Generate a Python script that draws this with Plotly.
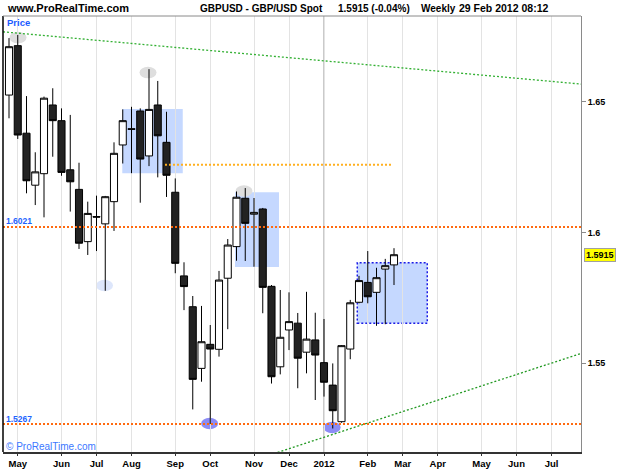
import pandas as pd
import plotly.graph_objects as go

# ---------------- data ----------------
start_week = "2011-04-25"
n_weeks = 45
opens = [1.6526, 1.6715, 1.6380, 1.6181, 1.6225, 1.6488, 1.6428, 1.6240, 1.6165, 1.5965,
         1.6061, 1.6033, 1.6118, 1.6335, 1.6397, 1.6465, 1.6293, 1.6488, 1.6345, 1.6154,
         1.5834, 1.5716, 1.5480, 1.5572, 1.5553, 1.5825, 1.5946, 1.6131, 1.6070, 1.6090,
         1.5794, 1.5486, 1.5627, 1.5653, 1.5542, 1.5589, 1.5502, 1.5416, 1.5276, 1.5554,
         1.5733, 1.5809, 1.5771, 1.5860, 1.5876]
highs = [1.6744, 1.6756, 1.6522, 1.6307, 1.6520, 1.6552, 1.6475, 1.6450, 1.6267, 1.6118,
         1.6141, 1.6140, 1.6345, 1.6471, 1.6481, 1.6475, 1.6625, 1.6580, 1.6462, 1.6207,
         1.5886, 1.5757, 1.5719, 1.5646, 1.5853, 1.5975, 1.6157, 1.6170, 1.6132, 1.6094,
         1.5799, 1.5780, 1.5771, 1.5692, 1.5773, 1.5693, 1.5669, 1.5499, 1.5569, 1.5742,
         1.5834, 1.5929, 1.5865, 1.5899, 1.5940]
lows = [1.6437, 1.6358, 1.6150, 1.6105, 1.6058, 1.6290, 1.6217, 1.6080, 1.5937, 1.5914,
        1.5929, 1.5777, 1.6006, 1.6264, 1.6227, 1.6114, 1.6254, 1.6211, 1.6136, 1.5844,
        1.5703, 1.5323, 1.5429, 1.5267, 1.5525, 1.5630, 1.5892, 1.5891, 1.5869, 1.5691,
        1.5422, 1.5457, 1.5550, 1.5404, 1.5461, 1.5359, 1.5372, 1.5250, 1.5272, 1.5515,
        1.5729, 1.5729, 1.5643, 1.5649, 1.5799]
closes = [1.6711, 1.6373, 1.6198, 1.6232, 1.6514, 1.6428, 1.6230, 1.6194, 1.5959, 1.6073,
          1.6059, 1.6137, 1.6303, 1.6428, 1.6395, 1.6281, 1.6471, 1.6370, 1.6219, 1.5882,
          1.5793, 1.5438, 1.5582, 1.5554, 1.5818, 1.5952, 1.6135, 1.6035, 1.6077, 1.5790,
          1.5448, 1.5599, 1.5659, 1.5519, 1.5592, 1.5531, 1.5427, 1.5318, 1.5567, 1.5731,
          1.5816, 1.5754, 1.5827, 1.5873, 1.5915]

month_ticks = ["2011-05-02", "2011-06-06", "2011-07-04", "2011-08-01", "2011-09-05",
               "2011-10-03", "2011-11-07", "2011-12-05", "2012-01-02", "2012-02-06",
               "2012-03-05", "2012-04-02", "2012-05-07", "2012-06-04", "2012-07-02"]
month_labels = ["May", "Jun", "Jul", "Aug", "Sep", "Oct", "Nov", "Dec", "2012",
                "Feb", "Mar", "Apr", "May", "Jun", "Jul"]
price_ticks = [1.55, 1.6, 1.65]
price_tick_labels = ["1.55", "1.6", "1.65"]

last_price = 1.5915
level_high = 1.6021
level_low = 1.5267
mid_level = 1.6259

x_range = ["2011-04-20 04:48", "2012-07-25 14:24"]
y_range = [1.5160, 1.68285]

dates = pd.date_range(start_week, periods=n_weeks, freq="7D")

# ---------------- figure ----------------
fig = go.Figure()
fig.add_trace(go.Candlestick(
    x=dates, open=opens, high=highs, low=lows, close=closes,
    increasing=dict(line=dict(color="#000000", width=1), fillcolor="#FFFFFF"),
    decreasing=dict(line=dict(color="#000000", width=1), fillcolor="#222222"),
    whiskerwidth=0, hoverinfo="skip", showlegend=False,
))

shapes = []
# shaded zones
boxes = [("2011-07-24 15:00", "2011-09-11", 1.6227, 1.6473, False),
         ("2011-10-22 19:00", "2011-11-27", 1.5868, 1.6154, False),
         ("2012-01-28 15:00", "2012-03-24 15:00", 1.5653, 1.5884, True)]
for x0, x1, y0, y1, border in boxes:
    shapes.append(dict(type="rect", xref="x", yref="y", x0=x0, x1=x1, y0=y0, y1=y1,
                       fillcolor="#C5D8FF", layer="below",
                       line=dict(color="#1A1AE6" if border else "rgba(0,0,0,0)",
                                 width=1.5, dash="2px,2px")))
# ellipses
ellipses = [("2011-05-02 05:00", 1.6746, "#DEDEDE"),
            ("2011-08-14 05:00", 1.6612, "#DEDEDE"),
            ("2011-10-30 00:00", 1.6159, "#DEDEDE"),
            ("2011-07-10 10:00", 1.5797, "#DDE6FB"),
            ("2011-10-02 12:00", 1.5269, "#8C8CF5"),
            ("2012-01-08 12:00", 1.5254, "#8C8CF5")]
for xc, yc, col in ellipses:
    xc = pd.Timestamp(xc)
    shapes.append(dict(type="circle", xref="x", yref="y",
                       x0=xc - pd.Timedelta(hours=163), x1=xc + pd.Timedelta(hours=163),
                       y0=yc - 0.0022, y1=yc + 0.0022,
                       fillcolor=col, line=dict(width=0), layer="below"))
# year gridline
shapes.append(dict(type="line", xref="x", yref="paper", x0="2012-01-02", x1="2012-01-02",
                   y0=0, y1=1, line=dict(color="#B8B8B8", width=1.5), layer="below"))
# horizontal levels
for lv in (level_high, level_low):
    shapes.append(dict(type="line", xref="paper", yref="y", x0=0, x1=1, y0=lv, y1=lv,
                       line=dict(color="#FF6A10", width=2, dash="2px,2px"), layer="above"))
shapes.append(dict(type="line", xref="x", yref="y", x0="2011-08-27 19:00", x1="2012-02-25",
                   y0=mid_level, y1=mid_level,
                   line=dict(color="#FFB020", width=2, dash="2px,2px"), layer="above"))
# trend lines
shapes.append(dict(type="line", xref="paper", yref="y", x0=0, x1=1, y0=1.6768, y1=1.6568,
                   line=dict(color="#33B033", width=1.3, dash="2px,2px"), layer="above"))
shapes.append(dict(type="line", xref="x", yref="y", x0="2011-11-19 19:00", x1="2012-07-25 14:00",
                   y0=1.5149, y1=1.5537,
                   line=dict(color="#229922", width=1.3, dash="2px,2px"), layer="above"))
# frame
shapes.append(dict(type="line", xref="paper", yref="paper", x0=0, x1=0, y0=0, y1=1,
                   line=dict(color="#000000", width=1.5), layer="above"))
shapes.append(dict(type="line", xref="paper", yref="paper", x0=0, x1=1, y0=1, y1=1,
                   line=dict(color="#8A8A8A", width=1), layer="above"))

F = "Liberation Sans, Arial, sans-serif"
ann = []
def txt(text, x, y, size, color="#000000", xanchor="left", yref="paper", yshift=0, **kw):
    ann.append(dict(text=text, x=x, y=y, xref="paper", yref=yref, xanchor=xanchor,
                    yanchor="middle", showarrow=False, yshift=yshift,
                    font=dict(family=F, size=size, color=color), **kw))

# plot area: x 3..581 (578 px), y 16..452 (436 px)
txt("<b>www.ProRealTime.com</b>", 0.0035, 1.0183, 11)
txt("<b>GBPUSD - GBP/USD Spot</b>", 0.3374, 1.0183, 10)
txt("<b>1.5915 (-0.04%)</b>", 0.5761, 1.0183, 10)
txt("<b>Weekly</b>", 0.7197, 1.0183, 10)
txt("<b>29 Feb 2012 08:12</b>", 0.7855, 1.0183, 10.5)
txt("<b>Price</b>", 0.0035, 0.984, 9.5, color="#1A5CFF")
txt("© ProRealTime.com", 0.0017, 0.0115, 10, color="#3C78FF")
txt("<b>1.6021</b>", 0.0017, level_high, 8.5, color="#1E64FF", yref="y", yshift=6)
txt("<b>1.5267</b>", 0.0017, level_low, 8.5, color="#1E64FF", yref="y", yshift=5)
txt("<b>1.5915</b>", 1.0052, last_price, 9, bgcolor="#FFFF00", bordercolor="#A0A0A0",
    borderwidth=1, borderpad=1, yref="y")

fig.update_layout(
    template="none", width=625, height=469,
    margin=dict(l=3, r=44, t=16, b=17),
    paper_bgcolor="#FFFFFF", plot_bgcolor="#FFFFFF", showlegend=False,
    boxgap=0.1, boxgroupgap=0.1,
    shapes=shapes, annotations=ann,
    xaxis=dict(type="date", range=x_range, tickvals=month_ticks,
               ticktext=["<b>%s</b>" % m for m in month_labels],
               showgrid=True, gridcolor="#E3E3E3", gridwidth=1,
               showline=True, linecolor="#333333", linewidth=2,
               ticks="outside", ticklen=2, tickcolor="#333333",
               tickfont=dict(family=F, size=9.5, color="#000000"),
               rangeslider=dict(visible=False), zeroline=False, fixedrange=True),
    yaxis=dict(side="right", range=y_range, tickvals=price_ticks,
               ticktext=["<b>%s</b>" % t for t in price_tick_labels],
               showgrid=False, showline=True, linecolor="#8A8A8A", linewidth=1,
               ticks="outside", ticklen=4, tickcolor="#8A8A8A",
               tickfont=dict(family=F, size=9, color="#000000"),
               zeroline=False, fixedrange=True),
)

fig.write_html("out.html")
